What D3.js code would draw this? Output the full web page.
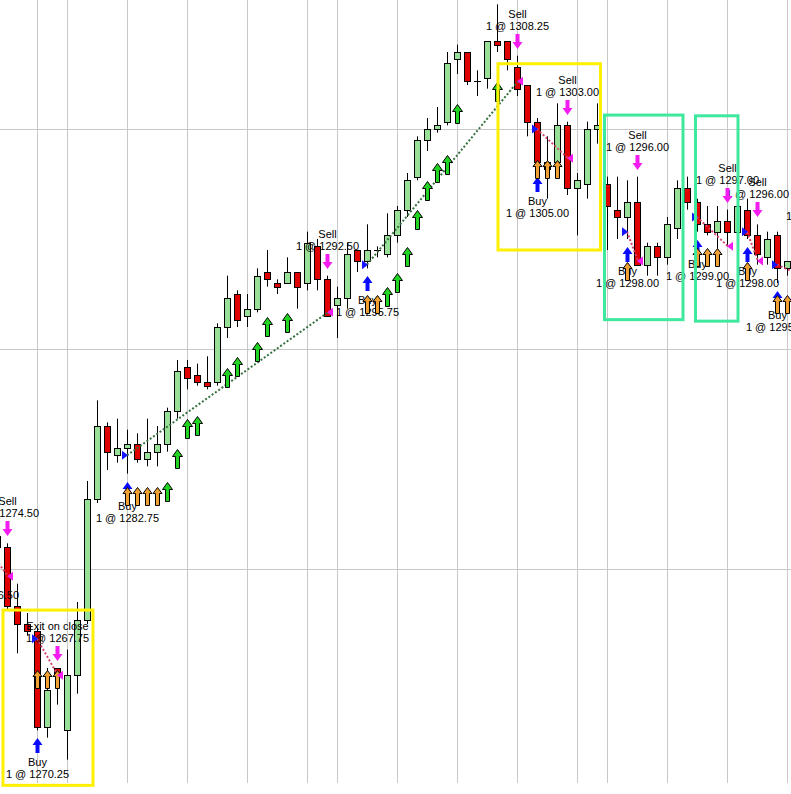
<!DOCTYPE html>
<html>
<head>
<meta charset="utf-8">
<style>
  body { margin: 0; background: #fff; }
  svg text { font-family: "Liberation Sans", Arial, sans-serif; font-size: 11px; fill: #000; }
</style>
<script src="https://d3js.org/d3.v7.min.js"></script>
</head>
<body>
<script>
// bars: [open, high, low, close], first row is bar -2 (left of the visible area)
var firstBar = -2;
var bars = [
  [1277.00, 1277.50, 1276.25, 1276.75], // -2
  [1276.50, 1277.50, 1276.25, 1277.25], // -1
  [1276.50, 1276.75, 1272.25, 1272.50], // 0
  [1272.50, 1274.00, 1269.25, 1271.25],
  [1271.25, 1272.00, 1270.50, 1270.75],
  [1270.75, 1271.00, 1264.00, 1264.25],
  [1264.25, 1268.25, 1263.50, 1266.75],
  [1268.25, 1268.25, 1265.75, 1267.75], // 5
  [1264.00, 1269.50, 1262.00, 1267.75],
  [1267.75, 1272.75, 1266.50, 1271.50],
  [1271.50, 1281.00, 1271.25, 1279.75],
  [1279.75, 1286.50, 1279.50, 1284.75],
  [1284.75, 1285.00, 1281.75, 1283.00], // 10
  [1282.75, 1285.25, 1282.25, 1283.25],
  [1283.25, 1284.50, 1281.50, 1283.50],
  [1283.50, 1284.25, 1282.25, 1282.50],
  [1282.50, 1285.25, 1282.00, 1283.00],
  [1283.00, 1284.75, 1282.00, 1283.50], // 15
  [1283.50, 1286.00, 1283.00, 1285.75],
  [1285.75, 1289.25, 1285.25, 1288.50],
  [1288.75, 1289.25, 1287.25, 1288.00],
  [1288.25, 1289.00, 1287.50, 1287.75],
  [1287.75, 1289.50, 1287.25, 1287.50], // 20
  [1287.75, 1291.75, 1287.50, 1291.50],
  [1291.50, 1295.00, 1290.75, 1293.50],
  [1293.75, 1294.00, 1291.50, 1292.00],
  [1292.25, 1293.75, 1291.50, 1292.75],
  [1292.75, 1295.50, 1292.50, 1295.00], // 25
  [1295.25, 1296.75, 1294.25, 1294.75],
  [1294.50, 1294.75, 1293.75, 1294.25],
  [1294.50, 1296.25, 1294.50, 1295.25],
  [1295.25, 1295.25, 1292.75, 1294.25],
  [1294.50, 1298.00, 1294.00, 1297.25], // 30
  [1297.00, 1297.50, 1294.00, 1294.75],
  [1294.75, 1295.00, 1292.25, 1292.25],
  [1293.00, 1294.25, 1290.75, 1293.50],
  [1293.50, 1297.25, 1292.75, 1296.50],
  [1296.75, 1296.75, 1295.25, 1296.00], // 35
  [1296.00, 1298.50, 1295.50, 1296.75],
  [1296.75, 1297.00, 1296.25, 1296.75],
  [1296.50, 1299.25, 1296.25, 1297.75],
  [1297.75, 1299.75, 1297.25, 1299.50],
  [1299.50, 1302.00, 1299.00, 1301.50], // 40
  [1301.75, 1304.50, 1301.50, 1304.25],
  [1304.25, 1305.75, 1303.50, 1305.00],
  [1305.00, 1306.50, 1304.75, 1305.25],
  [1305.50, 1310.25, 1305.25, 1309.50],
  [1309.75, 1310.75, 1308.75, 1310.25], // 45
  [1310.25, 1310.25, 1308.00, 1308.25],
  [1308.25, 1309.00, 1307.25, 1308.25],
  [1308.50, 1311.00, 1307.75, 1311.00],
  [1311.00, 1313.50, 1310.25, 1310.75],
  [1311.00, 1311.00, 1309.00, 1309.75], // 50
  [1309.25, 1310.00, 1307.25, 1307.75],
  [1308.00, 1308.00, 1304.50, 1305.50],
  [1305.50, 1305.75, 1302.25, 1302.75],
  [1302.25, 1304.50, 1300.25, 1302.75],
  [1302.75, 1306.75, 1301.75, 1305.25], // 55
  [1305.25, 1305.50, 1300.50, 1301.00],
  [1301.00, 1302.00, 1297.75, 1301.50],
  [1301.25, 1305.50, 1300.25, 1305.00],
  [1305.00, 1306.75, 1304.00, 1305.25],
  [1301.25, 1301.75, 1296.75, 1299.75], // 60
  [1299.50, 1301.75, 1297.50, 1299.00],
  [1299.00, 1301.50, 1297.50, 1300.00],
  [1300.00, 1301.75, 1295.75, 1295.75],
  [1295.75, 1297.25, 1295.00, 1297.00],
  [1297.00, 1297.25, 1295.00, 1296.25], // 65
  [1296.25, 1299.00, 1295.75, 1298.50],
  [1298.25, 1301.50, 1297.50, 1301.00],
  [1301.00, 1301.75, 1299.50, 1300.00],
  [1300.00, 1300.25, 1298.00, 1298.50],
  [1298.50, 1299.75, 1297.75, 1298.00], // 70
  [1298.00, 1299.75, 1296.75, 1298.75],
  [1298.75, 1299.50, 1297.00, 1298.00],
  [1298.00, 1300.00, 1297.75, 1299.75],
  [1299.50, 1300.25, 1297.50, 1297.75],
  [1297.75, 1298.50, 1295.75, 1296.50], // 75
  [1296.25, 1298.00, 1295.75, 1297.50],
  [1297.75, 1298.00, 1294.50, 1295.50],
  [1295.50, 1296.00, 1295.00, 1296.00],
  [1296.00, 1296.50, 1295.00, 1295.25], // beyond right edge
  [1295.25, 1296.25, 1294.50, 1295.75],
  [1296.50, 1297.00, 1294.25, 1294.50]
];

// trades: entry bar / price, exit bar / price
var trades = [
  { entryBar: -2, entry: 1276.50, exitBar: 0,  exit: 1274.50, exitName: "Sell" },
  { entryBar: 3,  entry: 1270.25, exitBar: 5,  exit: 1267.75, exitName: "Exit on close" },
  { entryBar: 12, entry: 1282.75, exitBar: 32, exit: 1292.50, exitName: "Sell" },
  { entryBar: 36, entry: 1295.75, exitBar: 51, exit: 1308.25, exitName: "Sell" },
  { entryBar: 53, entry: 1305.00, exitBar: 56, exit: 1303.00, exitName: "Sell" },
  { entryBar: 62, entry: 1298.00, exitBar: 63, exit: 1296.00, exitName: "Sell" },
  { entryBar: 69, entry: 1299.00, exitBar: 72, exit: 1297.00, exitName: "Sell" },
  { entryBar: 74, entry: 1298.00, exitBar: 75, exit: 1296.00, exitName: "Sell" },
  { entryBar: 77, entry: 1295.75, exitBar: 81, exit: 1294.50, exitName: "Sell" }
];

// trend signals (green up arrows under the bar)
var trendBars = [16, 17, 18, 19, 22, 23, 25, 26, 28, 38, 39, 40, 41, 42, 43, 44, 45, 49];

// setup signals (orange up arrows), price = arrow tip
var setupSignals = [
  { bars: [3, 4, 5],         price: 1268.10 },
  { bars: [12, 13, 14, 15],  price: 1280.60 },
  { bars: [36, 37],          price: 1293.70 },
  { bars: [53, 54, 55],      price: 1302.90 },
  { bars: [62],              price: 1295.90 },
  { bars: [69, 70, 71],      price: 1296.90 },
  { bars: [74],              price: 1295.90 },
  { bars: [77, 78],          price: 1293.70 }
];

// hand drawn boxes, in bar / price units
var yellowBoxes = [
  { b0: -0.4,  b1: 8.6,   p0: 1272.20, p1: 1260.25 },
  { b0: 49.1,  b1: 59.35, p0: 1309.45, p1: 1296.75 }
];
var mintBoxes = [
  { b0: 59.75, b1: 67.6,  p0: 1305.95, p1: 1292.00 },
  { b0: 68.85, b1: 73.1,  p0: 1305.90, p1: 1291.90 }
];

var gridBars = [3, 6, 12, 18, 24, 30, 33, 39, 45, 51, 57, 60, 66, 72, 78];
var gridPrices = [1305, 1290, 1275];

var width = 791, height = 794, plotBottom = 783;

var x = d3.scaleLinear().domain([0, 78]).range([7, 787]);
var y = d3.scaleLinear().domain([1305, 1275]).range([129, 569]);

var svg = d3.select("body").append("svg")
    .attr("width", width)
    .attr("height", height);

// grid
var gx = svg.append("g").attr("transform", "translate(0," + plotBottom + ")")
    .call(d3.axisBottom(x).tickValues(gridBars).tickSize(-plotBottom).tickFormat(""));
gx.select(".domain").remove();
gx.selectAll("line").attr("stroke", "#c8c8c8");

var gy = svg.append("g")
    .call(d3.axisLeft(y).tickValues(gridPrices).tickSize(-width).tickFormat(""));
gy.select(".domain").remove();
gy.selectAll("line").attr("stroke", "#c8c8c8");

var data = bars.map(function(d, i) {
  return { i: i + firstBar, o: d[0], h: d[1], l: d[2], c: d[3] };
});
function barAt(i) { return data[i - firstBar]; }
function px(i) { return Math.round(x(i)); }

// candles
var candles = svg.append("g");
data.forEach(function(d) {
  var cx = px(d.i);
  candles.append("line")
      .attr("x1", cx + 0.5).attr("x2", cx + 0.5)
      .attr("y1", y(d.h)).attr("y2", y(d.l))
      .attr("stroke", "#000");
  var top = Math.round(y(Math.max(d.o, d.c))), bot = Math.round(y(Math.min(d.o, d.c)));
  if (bot - top < 1) {
    candles.append("line")
        .attr("x1", cx - 3).attr("x2", cx + 4)
        .attr("y1", top + 0.5).attr("y2", top + 0.5)
        .attr("stroke", "#000");
  } else {
    candles.append("rect")
        .attr("x", cx - 3 + 0.5).attr("y", top + 0.5)
        .attr("width", 6).attr("height", bot - top)
        .attr("fill", d.c >= d.o ? "#98e098" : "#e00000")
        .attr("stroke", "#000");
  }
});

// arrow shapes
function upArrow(cx, ty, len, hw, hl, sw) {
  return "M" + cx + "," + ty + "L" + (cx + hw) + "," + (ty + hl) + "L" + (cx + sw) + "," + (ty + hl) +
    "L" + (cx + sw) + "," + (ty + len) + "L" + (cx - sw) + "," + (ty + len) + "L" + (cx - sw) + "," + (ty + hl) +
    "L" + (cx - hw) + "," + (ty + hl) + "Z";
}
function downArrow(cx, ty, len, hw, hl, sw) {
  return "M" + cx + "," + ty + "L" + (cx + hw) + "," + (ty - hl) + "L" + (cx + sw) + "," + (ty - hl) +
    "L" + (cx + sw) + "," + (ty - len) + "L" + (cx - sw) + "," + (ty - len) + "L" + (cx - sw) + "," + (ty - hl) +
    "L" + (cx - hw) + "," + (ty - hl) + "Z";
}

// trade labels
var labels = svg.append("g").attr("text-anchor", "middle");
trades.forEach(function(t) {
  var eb = barAt(t.entryBar), xb = barAt(t.exitBar);
  var ly = y(eb.l);
  labels.append("text").attr("x", x(t.entryBar) + 0.5).attr("y", ly + 36).text("Buy");
  labels.append("text").attr("x", x(t.entryBar) + 0.5).attr("y", ly + 48).text("1 @ " + t.entry.toFixed(2));
  var hy = y(xb.h);
  labels.append("text").attr("x", x(t.exitBar) + 0.5).attr("y", hy - 38).text(t.exitName);
  labels.append("text").attr("x", x(t.exitBar) + 0.5).attr("y", hy - 26).text("1 @ " + t.exit.toFixed(2));
});

// trade connectors
var conn = svg.append("g");
trades.forEach(function(t) {
  conn.append("line")
      .attr("x1", x(t.entryBar)).attr("y1", y(t.entry))
      .attr("x2", x(t.exitBar) + 1).attr("y2", y(t.exit))
      .attr("stroke", t.exit > t.entry ? "#36703e" : "#d4456e")
      .attr("stroke-width", 2)
      .attr("stroke-dasharray", "2,2");
});

// green trend arrows, 30px under the low
var marks = svg.append("g");
trendBars.forEach(function(i) {
  marks.append("path")
      .attr("d", upArrow(px(i) + 0.5, Math.round(y(barAt(i).l)) + 30.5, 19, 5, 7, 2))
      .attr("fill", "#22d422").attr("stroke", "#000").attr("stroke-width", 1);
});

// blue entry arrows and magenta exit arrows
trades.forEach(function(t) {
  var eb = barAt(t.entryBar), xb = barAt(t.exitBar);
  marks.append("path")
      .attr("d", upArrow(px(t.entryBar) + 0.5, Math.round(y(eb.l)) + 8, 15, 5, 7, 2))
      .attr("fill", "#0a0aff");
  marks.append("path")
      .attr("d", downArrow(px(t.exitBar) + 0.5, Math.round(y(xb.h)) - 7, 15, 5, 7, 2))
      .attr("fill", "#f41cf0");
});

// orange setup arrows
setupSignals.forEach(function(s) {
  s.bars.forEach(function(i) {
    marks.append("path")
        .attr("d", upArrow(px(i) + 0.5, Math.round(y(s.price)) + 0.5, 18, 4.5, 6, 2))
        .attr("fill", "#f0a030").attr("stroke", "#000").attr("stroke-width", 1);
  });
});

// entry / exit price markers
trades.forEach(function(t) {
  var ex = px(t.entryBar) + 1, ey = y(t.entry);
  marks.append("path")
      .attr("d", "M" + ex + "," + ey + "L" + (ex - 6) + "," + (ey - 4.5) + "L" + (ex - 6) + "," + (ey + 4.5) + "Z")
      .attr("fill", "#1414ff");
  var qx = px(t.exitBar), qy = y(t.exit);
  marks.append("path")
      .attr("d", "M" + qx + "," + qy + "L" + (qx + 6) + "," + (qy - 4.5) + "L" + (qx + 6) + "," + (qy + 4.5) + "Z")
      .attr("fill", "#f41cf0");
});

// boxes
function drawBoxes(list, color) {
  svg.append("g").selectAll("rect")
    .data(list).enter().append("rect")
      .attr("x", function(d) { return x(d.b0); })
      .attr("y", function(d) { return y(d.p0); })
      .attr("width", function(d) { return x(d.b1) - x(d.b0); })
      .attr("height", function(d) { return y(d.p1) - y(d.p0); })
      .attr("fill", "none")
      .attr("stroke", color)
      .attr("stroke-width", 3);
}
drawBoxes(yellowBoxes, "#fff000");
drawBoxes(mintBoxes, "#3ee89c");
</script>
</body>
</html>
